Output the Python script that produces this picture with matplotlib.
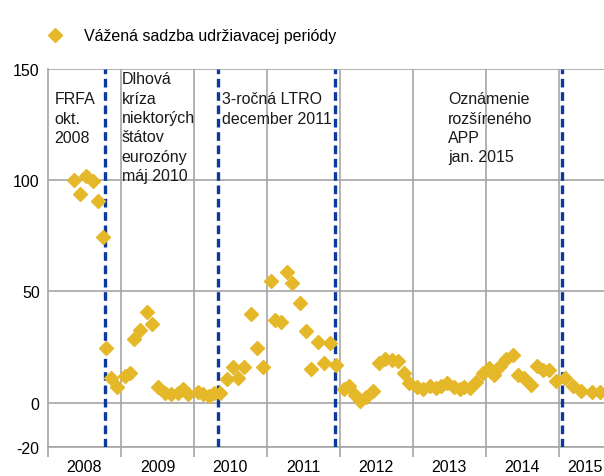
import numpy as np
import matplotlib.pyplot as plt
from matplotlib.ticker import FixedLocator, NullFormatter

plt.rcParams['font.family'] = ['Liberation Sans', 'DejaVu Sans']
plt.rcParams['axes.unicode_minus'] = False

# vážená sadzba udržiavacej periódy (čas v rokoch, hodnota)
t = [2008.36, 2008.44, 2008.52, 2008.61, 2008.68, 2008.75, 2008.79, 2008.86, 2008.94,
     2009.06, 2009.12, 2009.18, 2009.26, 2009.35, 2009.43, 2009.51, 2009.60, 2009.69,
     2009.78, 2009.85, 2009.92, 2010.06, 2010.12, 2010.20, 2010.27, 2010.36, 2010.46,
     2010.53, 2010.61, 2010.68, 2010.78, 2010.86, 2010.94, 2011.05, 2011.11, 2011.19,
     2011.28, 2011.35, 2011.45, 2011.53, 2011.61, 2011.70, 2011.78, 2011.86, 2011.95,
     2012.05, 2012.13, 2012.21, 2012.27, 2012.36, 2012.45, 2012.54, 2012.62, 2012.71,
     2012.79, 2012.88, 2012.95, 2013.06, 2013.14, 2013.23, 2013.32, 2013.39, 2013.47,
     2013.56, 2013.65, 2013.70, 2013.78, 2013.87, 2013.96, 2014.05, 2014.11, 2014.20,
     2014.28, 2014.37, 2014.44, 2014.53, 2014.62, 2014.70, 2014.79, 2014.87, 2014.96,
     2015.08, 2015.20, 2015.31, 2015.45, 2015.56]
sadzba = [100.0, 93.7, 102.0, 99.7, 90.7, 74.5, 24.6, 11.1, 6.9,
          11.9, 13.4, 28.4, 32.4, 40.7, 35.1, 7.1, 4.1, 3.9,
          4.4, 6.2, 3.9, 4.6, 4.0, 2.8, 4.5, 4.1, 10.7,
          16.1, 11.1, 16.2, 39.6, 24.6, 16.1, 54.7, 36.9, 36.2,
          58.9, 53.6, 44.6, 32.1, 15.2, 27.2, 17.6, 26.6, 16.7,
          6.0, 7.3, 3.6, 0.6, 2.6, 5.1, 17.9, 19.4, 19.1,
          18.6, 13.4, 8.9, 7.1, 6.2, 7.3, 6.6, 7.3, 8.6,
          7.1, 6.2, 7.1, 6.6, 9.1, 13.1, 15.6, 12.2, 16.4,
          19.7, 21.2, 12.6, 11.1, 8.1, 16.4, 14.6, 14.6, 9.6,
          11.1, 7.3, 5.1, 4.6, 4.6]

# udalosti (čas, popis)
udalosti_t = [2008.78, 2010.33, 2011.93, 2015.05]
udalosti_text = ['FRFA\nokt.\n2008',
                 'Dlhová\nkríza\nniektorých\nštátov\neurozóny\nmáj 2010',
                 '3-ročná LTRO\ndecember 2011',
                 'Oznámenie\nrozšíreného\nAPP\njan. 2015']
text_x = [2008.09, 2009.01, 2010.38, 2013.48]
text_y = [140, 149, 140, 140]

roky = list(range(2008, 2016))
roky_popis = [2008.5, 2009.5, 2010.5, 2011.5, 2012.5, 2013.5, 2014.5, 2015.36]
y_ticks = [-20, 0, 50, 100, 150]

zlta = '#E5B82A'
modra = '#0A3A9E'
siva = '#A6A6A6'

fig = plt.figure(figsize=(6.04, 4.77), dpi=100)
ax = fig.add_axes([48 / 604, 1 - 448 / 477, 1 - 48 / 604, (448 - 70) / 477])

for y in y_ticks:
    ax.axhline(y, color=siva, lw=1.2, zorder=0)
for r in roky[1:]:
    ax.axvline(r, color=siva, lw=1.2, zorder=0)

for x in udalosti_t:
    ax.axvline(x, color=modra, lw=2.4, ls=(0, (2.6, 1.4)), zorder=3)

ax.plot(t, sadzba, ls='none', marker='D', ms=7.5, color=zlta, mec=zlta,
        label='Vážená sadzba udržiavacej periódy', zorder=4)

for x, y, s in zip(text_x, text_y, udalosti_text):
    ax.text(x, y, s, fontsize=11.5, va='top', ha='left', linespacing=1.36,
            color='#1a1a1a', zorder=5)

ax.set_xlim(2008, 2015.62)
ax.set_ylim(-20, 150)
ax.set_yticks(y_ticks)
ax.tick_params(axis='y', length=0, labelsize=11.5, pad=6)

ax.xaxis.set_major_locator(FixedLocator(roky_popis))
ax.set_xticklabels([str(r) for r in roky])
ax.xaxis.set_minor_locator(FixedLocator(roky))
ax.xaxis.set_minor_formatter(NullFormatter())
ax.tick_params(axis='x', which='major', length=0, labelsize=11.5, pad=9)
ax.tick_params(axis='x', which='minor', length=7, width=1.2, color=siva)

for side in ['top', 'right']:
    ax.spines[side].set_visible(False)
ax.spines['left'].set_color(siva)
ax.spines['left'].set_linewidth(1.2)
ax.spines['bottom'].set_color(siva)
ax.spines['bottom'].set_linewidth(1.2)

fig.legend(loc='center left', bbox_to_anchor=(0.065, 0.923), frameon=False,
           fontsize=11.5, handlelength=1.0, handletextpad=1.3, borderpad=0)

fig.savefig('out.png', dpi=100)
